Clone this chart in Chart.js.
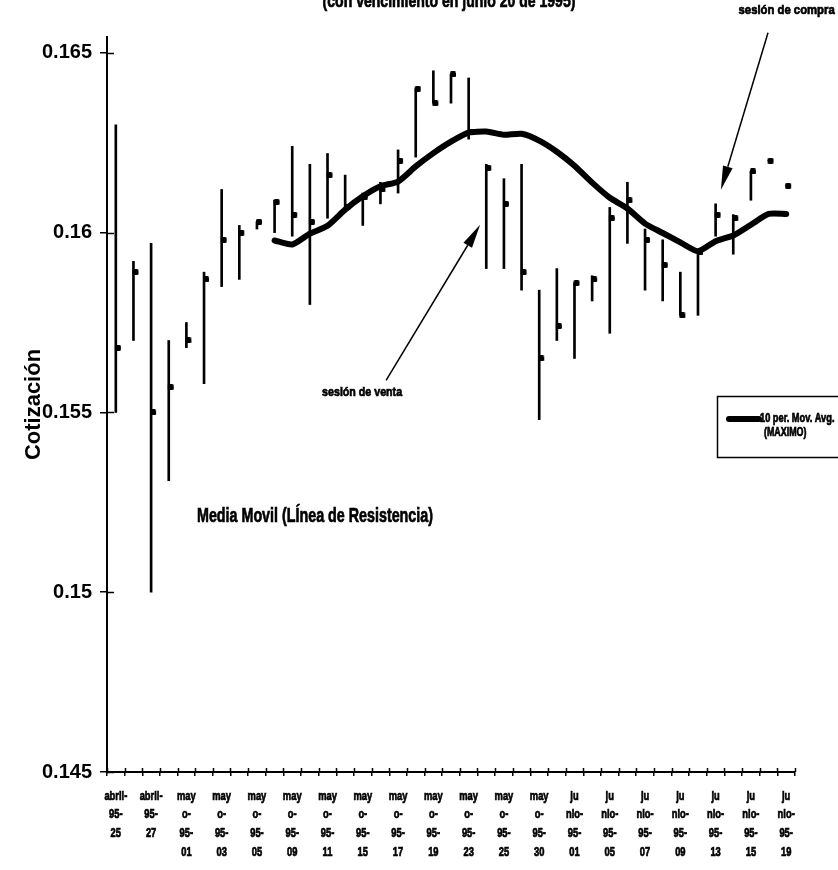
<!DOCTYPE html>
<html lang="es">
<head>
<meta charset="utf-8">
<title>Cotización - media móvil</title>
<script src="https://cdn.jsdelivr.net/npm/chart.js@4.4.1/dist/chart.umd.min.js"></script>
<style>
  html, body { margin: 0; padding: 0; background: #fff; }
  #grafico { display: block; }
</style>
</head>
<body>
<canvas id="grafico" width="838" height="870"></canvas>
<script>
// Sesiones: solo una de cada dos lleva fecha en el eje
const etiquetas = [
    ['abril-', '95-', '25'], [],
    ['abril-', '95-', '27'], [],
    ['may', 'o-', '95-', '01'], [],
    ['may', 'o-', '95-', '03'], [],
    ['may', 'o-', '95-', '05'], [],
    ['may', 'o-', '95-', '09'], [],
    ['may', 'o-', '95-', '11'], [],
    ['may', 'o-', '95-', '15'], [],
    ['may', 'o-', '95-', '17'], [],
    ['may', 'o-', '95-', '19'], [],
    ['may', 'o-', '95-', '23'], [],
    ['may', 'o-', '95-', '25'], [],
    ['may', 'o-', '95-', '30'], [],
    ['ju', 'nio-', '95-', '01'], [],
    ['ju', 'nio-', '95-', '05'], [],
    ['ju', 'nio-', '95-', '07'], [],
    ['ju', 'nio-', '95-', '09'], [],
    ['ju', 'nio-', '95-', '13'], [],
    ['ju', 'nio-', '95-', '15'], [],
    ['ju', 'nio-', '95-', '19']
];

const maximo = [
    0.1630, 0.1592, 0.1597, 0.1570, 0.1575, 0.1589, 0.1612, 0.1602, 0.1603, 0.1609,
    0.1624, 0.1619, 0.1622, 0.1616, 0.1611, 0.1614, 0.1623, 0.1640, 0.1645, 0.1644,
    0.1643, 0.1619, 0.1615, 0.1619, 0.1584, 0.1590, 0.1586, 0.1588, 0.1607, 0.1614,
    0.1601, 0.1598, 0.1589, 0.1595, 0.1608, 0.1605, 0.1617, 0.1620, 0.1613
];

const minimo = [
    0.1550, 0.1570, 0.1500, 0.1531, 0.1568, 0.1558, 0.1585, 0.1587, 0.1601, 0.1600,
    0.1599, 0.1580, 0.1604, 0.1606, 0.1602, 0.1608, 0.1611, 0.1621, 0.1636, 0.1636,
    0.1626, 0.1590, 0.1590, 0.1584, 0.1548, 0.1570, 0.1565, 0.1581, 0.1572, 0.1597,
    0.1584, 0.1581, 0.1577, 0.1577, 0.1599, 0.1594, 0.1609, 0.1620, 0.1613
];

const cierre = [
    0.1568, 0.1589, 0.1550, 0.1557, 0.1570, 0.1587, 0.1598, 0.1600, 0.1603, 0.16085,
    0.1605, 0.1603, 0.1616, 0.1607, 0.1610, 0.1612, 0.1620, 0.1640, 0.1636, 0.1644,
    0.1628, 0.1618, 0.1608, 0.1589, 0.1565, 0.1574, 0.1586, 0.1587, 0.1604, 0.1609,
    0.1598, 0.1591, 0.1577, 0.15945, 0.1605, 0.1604, 0.1617, 0.1620, 0.1613
];

// Media móvil de 10 periodos sobre el máximo
const mediaMovil = [
    null, null, null, null, null, null, null, null, null,
    0.15978, 0.15967, 0.15997, 0.16019, 0.16064, 0.16101, 0.16129, 0.16142, 0.16184, 0.16221,
    0.16253, 0.16278, 0.16281, 0.16272, 0.16275, 0.16256, 0.16225, 0.16186, 0.16139, 0.16097,
    0.16067, 0.16025, 0.15999, 0.15973, 0.15948, 0.15976, 0.15992, 0.16022, 0.16052, 0.16052
];

const yTicks = [0.145, 0.15, 0.155, 0.16, 0.165];

const ARIAL = "'Liberation Sans', Arial, sans-serif";

// texto en negrita comprimido a lo ancho (imita Arial Narrow)
function textoEstrecho(ctx, texto, x, y, size, sx, align) {
    ctx.save();
    ctx.translate(x, y);
    ctx.scale(sx, 1);
    ctx.font = `bold ${size}px ${ARIAL}`;
    ctx.textAlign = align || 'left';
    ctx.lineWidth = 0.7;
    ctx.fillText(texto, 0, 0);
    ctx.strokeText(texto, 0, 0);
    ctx.restore();
}

// marca de cierre: punto pegado a la derecha de la barra
function marcaCierre() {
    const c = document.createElement('canvas');
    c.width = 12;
    c.height = 6;
    const g = c.getContext('2d');
    g.fillStyle = '#000';
    g.beginPath();
    g.roundRect(5, 0, 6, 6, 1.5);
    g.fill();
    return c;
}

function flecha(ctx, x0, y0, x1, y1) {
    const ang = Math.atan2(y1 - y0, x1 - x0);
    const largo = 24, ancho = 5;
    const bx = x1 - Math.cos(ang) * largo;
    const by = y1 - Math.sin(ang) * largo;
    ctx.beginPath();
    ctx.moveTo(x0, y0);
    ctx.lineTo(bx, by);
    ctx.lineWidth = 1.5;
    ctx.stroke();
    ctx.beginPath();
    ctx.moveTo(x1, y1);
    ctx.lineTo(bx + Math.sin(ang) * ancho, by - Math.cos(ang) * ancho);
    ctx.lineTo(bx - Math.sin(ang) * ancho, by + Math.cos(ang) * ancho);
    ctx.closePath();
    ctx.fill();
}

// marcas de los ejes que cruzan hacia dentro del área y fechas del eje X
const ejes = {
    id: 'ejes',
    afterDatasetsDraw(chart) {
        const { ctx, chartArea, scales: { x, y } } = chart;
        ctx.save();
        ctx.strokeStyle = '#000';
        ctx.lineWidth = 1.5;
        ctx.beginPath();
        y.ticks.forEach(t => {
            const py = Math.round(y.getPixelForValue(t.value)) + 0.5;
            ctx.moveTo(chartArea.left, py);
            ctx.lineTo(chartArea.left + 7, py);
        });
        for (let i = 0; i <= etiquetas.length; i++) {
            const px = Math.round(x.getPixelForValue(i - 0.5)) + 0.5;
            ctx.moveTo(px, chartArea.bottom);
            ctx.lineTo(px, chartArea.bottom - 4);
        }
        ctx.stroke();

        ctx.fillStyle = '#000';
        ctx.textBaseline = 'middle';
        etiquetas.forEach((lineas, i) => {
            const px = x.getPixelForValue(i);
            lineas.forEach((linea, r) => {
                textoEstrecho(ctx, linea, px, chartArea.bottom + 24 + r * 18.7, 13, 0.72, 'center');
            });
        });
        ctx.restore();
    }
};

const anotaciones = {
    id: 'anotaciones',
    afterDraw(chart) {
        const { ctx, chartArea, scales: { x, y } } = chart;
        ctx.save();
        ctx.fillStyle = '#000';
        ctx.strokeStyle = '#000';
        ctx.textBaseline = 'alphabetic';

        // subtítulo, recortado por el borde superior
        textoEstrecho(ctx, '(con vencimiento en junio 20 de 1995)', (chartArea.left + chartArea.right) / 2 - 2, 7, 18, 0.78, 'center');

        // sesión de compra
        textoEstrecho(ctx, 'sesión de compra', x.getPixelForValue(35.3), y.getPixelForValue(0.16607), 13, 0.87);
        flecha(ctx, x.getPixelForValue(36.97), y.getPixelForValue(0.16556),
            x.getPixelForValue(34.3), y.getPixelForValue(0.16119));

        // sesión de venta
        textoEstrecho(ctx, 'sesión de venta', x.getPixelForValue(13.96), y.getPixelForValue(0.15545), 13, 0.82, 'center');
        flecha(ctx, x.getPixelForValue(15.32), y.getPixelForValue(0.15589),
            x.getPixelForValue(20.65), y.getPixelForValue(0.16022));

        ctx.textBaseline = 'middle';
        textoEstrecho(ctx, 'Media Movil (LÍnea de Resistencia)', x.getPixelForValue(4.6), y.getPixelForValue(0.15211), 20, 0.715);

        // leyenda
        const lx = 717, ly = 396;
        ctx.lineWidth = 1.5;
        ctx.strokeRect(lx + 0.5, ly + 0.5, chart.width - lx + 10, 61);
        ctx.lineWidth = 6;
        ctx.lineCap = 'round';
        ctx.beginPath();
        ctx.moveTo(lx + 12, ly + 23);
        ctx.lineTo(lx + 42, ly + 23);
        ctx.stroke();
        textoEstrecho(ctx, '10 per. Mov. Avg.', lx + 43, ly + 23, 12, 0.77);
        textoEstrecho(ctx, '(MAXIMO)', lx + 47, ly + 37, 12, 0.74);
        ctx.restore();
    }
};

const rangos = maximo.map((h, i) => [minimo[i], h]);

new Chart(document.getElementById('grafico'), {
    data: {
        labels: etiquetas,
        datasets: [
            {
                type: 'line',
                label: '10 per. Mov. Avg. (MAXIMO)',
                data: mediaMovil,
                borderColor: '#000',
                borderWidth: 6,
                borderCapStyle: 'round',
                borderJoinStyle: 'round',
                tension: 0.2,
                pointRadius: 0,
                spanGaps: false,
                order: 0
            },
            {
                type: 'line',
                label: 'Cierre',
                data: cierre,
                showLine: false,
                pointStyle: marcaCierre(),
                pointRadius: 3,
                order: 1
            },
            {
                type: 'bar',
                label: 'Máximo-Mínimo',
                data: rangos,
                backgroundColor: '#000',
                barThickness: 2,
                order: 2
            }
        ]
    },
    options: {
        responsive: false,
        animation: false,
        layout: { padding: { top: 37, right: 43, left: 0, bottom: 0 } },
        plugins: {
            legend: { display: false },
            tooltip: { enabled: false }
        },
        scales: {
            x: {
                grid: { drawOnChartArea: false, tickLength: 4, color: '#000', lineWidth: 1.5, offset: true },
                border: { color: '#000', width: 2 },
                ticks: { display: false, autoSkip: false },
                afterFit(scale) { scale.height = 98; }
            },
            y: {
                min: 0.145,
                max: 0.16544,
                grid: { drawOnChartArea: false, tickLength: 7, color: '#000', lineWidth: 1.5 },
                border: { color: '#000', width: 2 },
                ticks: {
                    color: '#000',
                    padding: 8,
                    font: { family: ARIAL, size: 20, weight: 'bold' },
                    callback: v => String(Number(v.toFixed(3)))
                },
                afterBuildTicks(scale) {
                    scale.ticks = yTicks.map(v => ({ value: v }));
                },
                title: {
                    display: true,
                    text: 'Cotización',
                    color: '#000',
                    padding: { top: 21, bottom: 0 },
                    font: { family: ARIAL, size: 22, weight: 'bold' }
                },
                afterFit(scale) { scale.width = 107; }
            }
        }
    },
    plugins: [ejes, anotaciones]
});
</script>
</body>
</html>
